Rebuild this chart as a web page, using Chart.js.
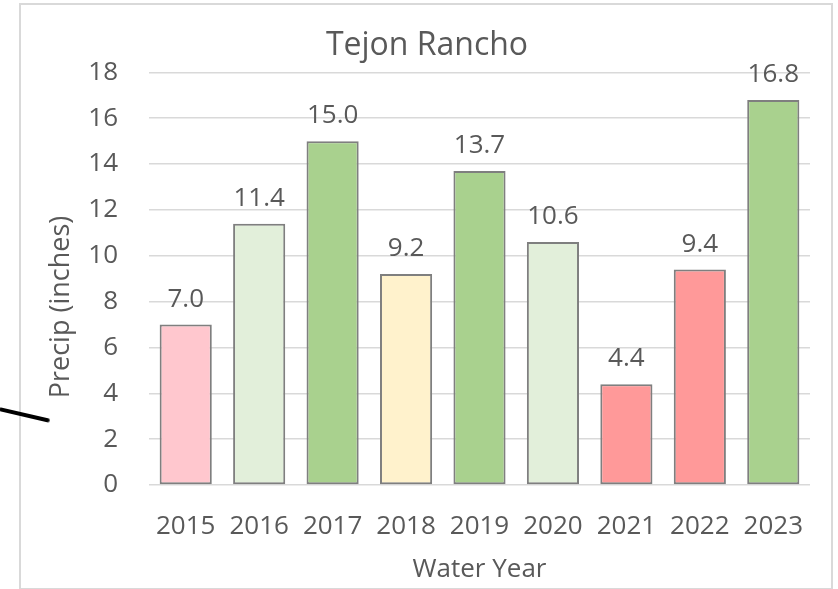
<!DOCTYPE html>
<html>
<head>
<meta charset="utf-8">
<script src="https://cdn.jsdelivr.net/npm/chart.js@4"></script>
<style>
    html, body { margin: 0; padding: 0; background: #ffffff; }
    #wrap { position: relative; width: 838px; height: 589px; overflow: hidden; }
    #frame {
        position: absolute; left: 19px; top: 3px; width: 814px; height: 587px;
        border: 2px solid #d9d9d9; box-sizing: border-box;
    }
    #stroke {
        position: absolute; left: -1px; top: 407px; width: 52px; height: 4px;
        background: #000; border-radius: 2px;
        transform-origin: 0 50%; transform: rotate(13deg);
    }
    canvas { position: absolute; left: 0; top: 0; }
</style>
</head>
<body>
<div id="wrap">
    <div id="frame"></div>
    <canvas id="chart" width="838" height="589"></canvas>
    <div id="stroke"></div>
</div>
<script>
    // Data
    const years = ['2015', '2016', '2017', '2018', '2019', '2020', '2021', '2022', '2023'];
    const precip = [7.0, 11.4, 15.0, 9.2, 13.7, 10.6, 4.4, 9.4, 16.8];
    const barColors = ['#ffc7ce', '#e2efda', '#a9d18e', '#fff2cc', '#a9d18e', '#e2efda', '#ff9999', '#ff9999', '#a9d18e'];
    const yTicks = [0, 2, 4, 6, 8, 10, 12, 14, 16, 18];

    const FONT = "'Open Sans', sans-serif";
    const TEXT = '#595959';

    // Value labels above each bar
    const valueLabels = {
        id: 'valueLabels',
        afterDatasetsDraw(chart) {
            const ctx = chart.ctx;
            const meta = chart.getDatasetMeta(0);
            ctx.save();
            ctx.font = `26px ${FONT}`;
            ctx.fillStyle = TEXT;
            ctx.textAlign = 'center';
            ctx.textBaseline = 'alphabetic';
            meta.data.forEach((bar, i) => {
                ctx.fillText(precip[i].toFixed(1), bar.x, bar.y - 18);
            });
            ctx.restore();
        }
    };

    // Y axis title, sitting a bit below the middle of the plot like the original
    const yTitle = {
        id: 'yTitle',
        afterDraw(chart) {
            const ctx = chart.ctx;
            ctx.save();
            ctx.translate(61, 307);
            ctx.rotate(-Math.PI / 2);
            ctx.font = `27px ${FONT}`;
            ctx.fillStyle = TEXT;
            ctx.textAlign = 'center';
            ctx.textBaseline = 'middle';
            ctx.fillText('Precip (inches)', 0, 0);
            ctx.restore();
        }
    };

    new Chart(document.getElementById('chart'), {
        type: 'bar',
        data: {
            labels: years,
            datasets: [{
                data: precip,
                backgroundColor: barColors,
                borderColor: '#7f7f7f',
                borderWidth: 2,
                borderSkipped: false,
                categoryPercentage: 1,
                barPercentage: 0.71
            }]
        },
        options: {
            responsive: false,
            animation: false,
            devicePixelRatio: 1,
            layout: {
                padding: { left: 20, right: 4, top: 4, bottom: 0 }
            },
            scales: {
                x: {
                    grid: { display: false },
                    border: { display: false },
                    ticks: {
                        color: TEXT,
                        font: { family: FONT, size: 26 },
                        padding: 18,
                        maxRotation: 0,
                        autoSkip: false
                    },
                    title: {
                        display: true,
                        text: 'Water Year',
                        color: TEXT,
                        font: { family: FONT, size: 26 },
                        padding: { top: 0, bottom: 4 }
                    },
                    afterFit(scale) { scale.height = 104; }
                },
                y: {
                    min: 0,
                    max: 18,
                    afterBuildTicks(scale) {
                        scale.ticks = yTicks.map(v => ({ value: v }));
                    },
                    grid: {
                        color: '#d9d9d9',
                        lineWidth: 1.5,
                        drawTicks: false
                    },
                    border: { display: false },
                    ticks: {
                        color: TEXT,
                        font: { family: FONT, size: 26 },
                        padding: 31
                    },
                    afterFit(scale) { scale.width = 129; }
                },
                // empty right-hand axis: keeps the plot's right edge while the title centres on the frame
                y2: {
                    position: 'right',
                    display: true,
                    grid: { display: false },
                    border: { display: false },
                    ticks: { display: false },
                    afterFit(scale) { scale.width = 24; }
                }
            },
            plugins: {
                legend: { display: false },
                tooltip: { enabled: false },
                title: {
                    display: true,
                    text: 'Tejon Rancho',
                    color: TEXT,
                    font: { family: FONT, size: 32, weight: 'normal' },
                    padding: { top: 23, bottom: 7 }
                }
            }
        },
        plugins: [valueLabels, yTitle]
    });
</script>
</body>
</html>
